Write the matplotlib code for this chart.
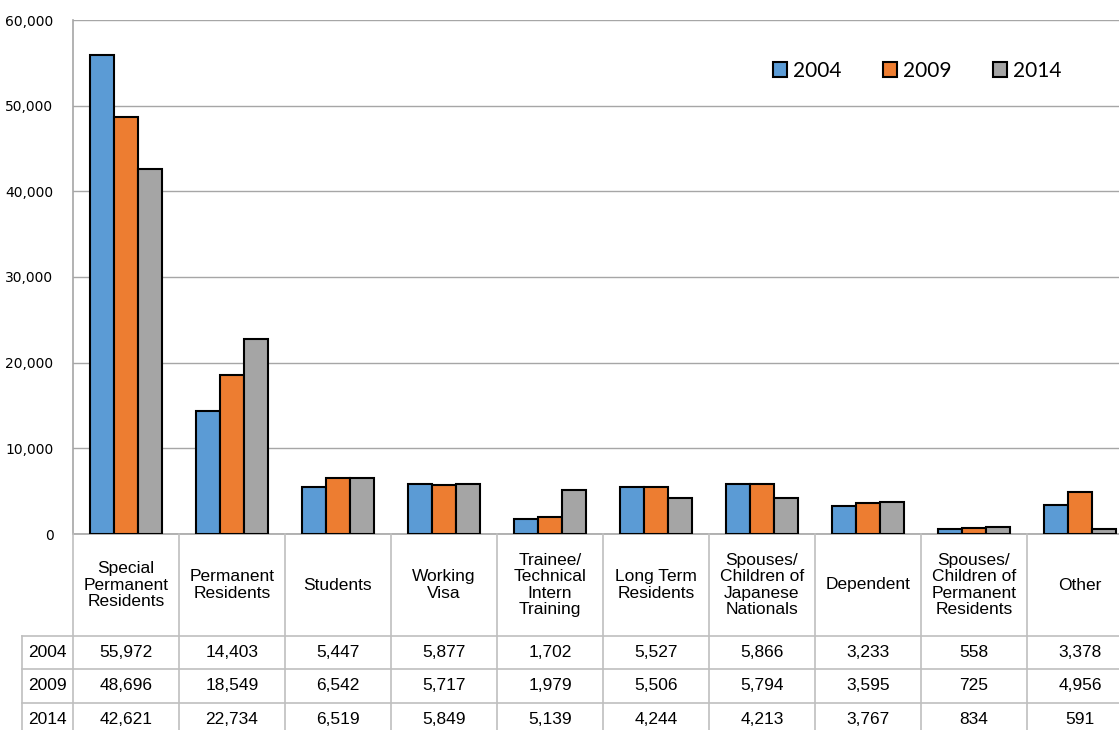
import numpy as np
import matplotlib.pyplot as plt
from matplotlib.ticker import FuncFormatter

categories = ["Special\nPermanent\nResidents", "Permanent\nResidents", "Students",
              "Working\nVisa", "Trainee/\nTechnical\nIntern\nTraining", "Long Term\nResidents",
              "Spouses/\nChildren of\nJapanese\nNationals", "Dependent",
              "Spouses/\nChildren of\nPermanent\nResidents", "Other"]
years = ["2004", "2009", "2014"]
v2004 = [55972, 14403, 5447, 5877, 1702, 5527, 5866, 3233, 558, 3378]
v2009 = [48696, 18549, 6542, 5717, 1979, 5506, 5794, 3595, 725, 4956]
v2014 = [42621, 22734, 6519, 5849, 5139, 4244, 4213, 3767, 834, 591]
colors = ["#5B9BD5", "#ED7D31", "#A5A5A5"]

W, H = 1119, 730
fig = plt.figure(figsize=(W / 100, H / 100), dpi=100)

# main bar axes (right edge runs past the picture, as in the reference)
ax = fig.add_axes([73 / W, (H - 534) / H, 1060 / W, 514 / H])
x = np.arange(len(categories))
bw = 0.226
series = [v2004, v2009, v2014]
for k, (vals, c, yr) in enumerate(zip(series, colors, years)):
    ax.bar(x + (k - 1) * bw, vals, bw, color=c, edgecolor="black", linewidth=1.5,
           label=yr, zorder=3)

ax.set_xlim(-0.5, len(categories) - 0.5)
ax.set_ylim(0, 60000)
ax.set_yticks(np.arange(0, 60001, 10000))
ax.yaxis.set_major_formatter(FuncFormatter(lambda v, p: f"{int(v):,}"))
ax.tick_params(axis="y", length=0, pad=14, labelsize=10)
ax.set_xticks([])
ax.grid(axis="y", color="#a6a6a6", linewidth=1, zorder=0)
for s in ["top", "right"]:
    ax.spines[s].set_visible(False)
for s in ["left", "bottom"]:
    ax.spines[s].set_color("#a6a6a6")
    ax.spines[s].set_linewidth(1.2)

leg = ax.legend(ncol=3, loc="center", bbox_to_anchor=(917 / W, (H - 71) / H),
                bbox_transform=fig.transFigure, frameon=False,
                prop={"family": "Lato", "size": 15}, handlelength=0.7,
                handleheight=0.7, handletextpad=0.25, columnspacing=2.0)

# data table under the chart
tax = fig.add_axes([73 / W, 0, 1060 / W, 196 / H])
tax.set_xlim(-0.5, len(categories) - 0.5)
tax.set_ylim(0, 196)
tax.axis("off")
lc = "#bfbfbf"
xl = -0.5 - 51 / 106
for yy in [94, 61, 27]:
    tax.plot([xl, len(categories) - 0.5], [yy, yy], color=lc, lw=1.2, clip_on=False)
for k in range(len(categories) + 1):
    tax.plot([k - 0.5, k - 0.5], [0, 196], color=lc, lw=1.2, clip_on=False)
tax.plot([xl, xl], [0, 94], color=lc, lw=1.2, clip_on=False)

tfont = {"family": "Liberation Sans", "size": 12.5}
for i, cat in enumerate(categories):
    tax.text(i, 145, cat, ha="center", va="center", linespacing=1.1, **tfont)
row_y = [77.5, 44, 10]
for yr, vals, yy in zip(years, series, row_y):
    tax.text((xl - 0.5) / 2, yy, yr, ha="center", va="center", clip_on=False, **tfont)
    for i, v in enumerate(vals):
        tax.text(i, yy, f"{v:,}", ha="center", va="center", **tfont)

fig.savefig("out.png", dpi=100)
